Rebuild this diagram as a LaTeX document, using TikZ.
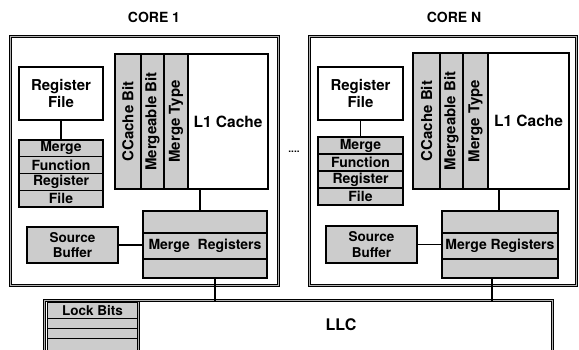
\documentclass[tikz,border=0pt]{standalone}
\usepackage{fontspec}
\setmainfont{TeX Gyre Heros}
\usetikzlibrary{calc}
\definecolor{lg}{RGB}{204,204,204}
\newcommand\fsz[2]{\fontsize{#1}{#2}\selectfont\bfseries}
\tikzset{
  box/.style={draw=black, line width=1.2pt, inner sep=0pt, outer sep=0pt, anchor=north west, align=center},
  gbox/.style={box, fill=lg},
  dbl/.style={draw=black, line width=1.1pt, double=gray!60, double distance=1.2pt},
  conn/.style={draw=black, line width=1.2pt},
}
\begin{document}
\begin{tikzpicture}[x=1pt, y=-1pt]
\useasboundingbox (0,0) rectangle (579,350);
% titles
\node[font=\fsz{14}{15}] (t1) at (154,17) {CORE 1};
\node[font=\fsz{14}{15}] (tn) at (454,17) {CORE N};
% outer core boxes
\node[dbl, inner sep=0pt, outer sep=0pt, anchor=north west, minimum width=267.6pt, minimum height=248.6pt] (core1) at (10.7,36.7) {};
\node[dbl, inner sep=0pt, outer sep=0pt, anchor=north west, minimum width=266.6pt, minimum height=248.6pt] (coreN) at (309.7,36.7) {};
\node[font=\fsz{10}{10}] (dots) at (294,152) {....};
% LLC
\node[dbl, fill=white, inner sep=0pt, outer sep=0pt, anchor=north west, minimum width=507.6pt, minimum height=80pt] (llc) at (44.7,300.7) {};
\node[font=\fsz{16}{16}] (llct) at (341,325) {LLC};
\node[gbox, minimum width=90pt, minimum height=16pt, font=\fsz{13.5}{13.5}] (lb1) at (47.5,302.3) {Lock Bits};
\node[gbox, minimum width=90pt, minimum height=10pt] (lb2) at (47.5,318.3) {};
\node[gbox, minimum width=90pt, minimum height=10pt] (lb3) at (47.5,328.3) {};
\node[gbox, minimum width=90pt, minimum height=30pt] (lb4) at (47.5,338.3) {};
\draw[dbl] ([xshift=1.2pt]lb1.north east) -- ([xshift=1.2pt]lb4.south east);

% ---------- CORE 1 ----------
\node[box, minimum width=84pt, minimum height=53pt, font=\fsz{15}{16.5}] (rf1) at (19,67) {Register\\File};
\node[gbox, minimum width=84pt, minimum height=16.75pt, font=\fsz{14}{14}] (s1a) at (19,140) {Merge};
\node[gbox, minimum width=84pt, minimum height=16.75pt, font=\fsz{14}{14}] (s1b) at (19,156.75) {Function};
\node[gbox, minimum width=84pt, minimum height=16.75pt, font=\fsz{14}{14}] (s1c) at (19,173.5) {Register};
\node[gbox, minimum width=84pt, minimum height=16.75pt, font=\fsz{14}{14}] (s1d) at (19,190.25) {File};
\draw[conn] (rf1.south) -- (s1a.north);
\node[gbox, minimum width=26pt, minimum height=135pt, font=\fsz{15}{15}] (cc1) at (115,54) {\rotatebox{90}{CCache Bit}};
\node[gbox, minimum width=23pt, minimum height=135pt, font=\fsz{15}{15}] (mb1) at (141,54) {\rotatebox{90}{Mergeable Bit}};
\node[gbox, minimum width=24pt, minimum height=135pt, font=\fsz{15}{15}] (mt1) at (164,54) {\rotatebox{90}{Merge Type}};
\node[box, fill=white, minimum width=80pt, minimum height=135pt, font=\fsz{15.5}{15.5}] (l11) at (188,54) {L1 Cache};
\node[gbox, minimum width=124pt, minimum height=22pt] (mr1a) at (143,211) {};
\node[gbox, minimum width=124pt, minimum height=26pt, font=\fsz{14}{14}] (mr1b) at (143,233) {Merge~~Registers};
\node[gbox, minimum width=124pt, minimum height=19pt] (mr1c) at (143,259) {};
\node[gbox, minimum width=91pt, minimum height=36pt, font=\fsz{13.5}{15.3}] (sb1) at (27,227) {Source\\Buffer};
\coordinate (c1a) at ($(l11.south west)+(12,0)$);
\draw[conn] (c1a) -- (c1a |- mr1a.north);
\draw[conn] (sb1.east) -- (sb1.east -| mr1b.west);
\coordinate (c1b) at ($(mr1c.south west)+(72,0)$);
\draw[conn] (c1b) -- (c1b |- llc.north);

% ---------- CORE N ----------
\node[box, minimum width=85pt, minimum height=53pt, font=\fsz{15}{16.5}] (rfn) at (318,67) {Register\\File};
\node[gbox, minimum width=85pt, minimum height=17pt, font=\fsz{14}{14}] (sna) at (318,137) {Merge};
\node[gbox, minimum width=85pt, minimum height=17pt, font=\fsz{14}{14}] (snb) at (318,154) {Function};
\node[gbox, minimum width=85pt, minimum height=17pt, font=\fsz{14}{14}] (snc) at (318,171) {Register};
\node[gbox, minimum width=85pt, minimum height=17pt, font=\fsz{14}{14}] (snd) at (318,188) {File};
\draw[conn] (rfn.south) -- (sna.north);
\node[gbox, minimum width=27pt, minimum height=136pt, font=\fsz{15}{15}] (ccn) at (413,53) {\rotatebox{90}{CCache Bit}};
\node[gbox, minimum width=23pt, minimum height=136pt, font=\fsz{15}{15}] (mbn) at (440,53) {\rotatebox{90}{Mergeable Bit}};
\node[gbox, minimum width=25pt, minimum height=136pt, font=\fsz{15}{15}] (mtn) at (463,53) {\rotatebox{90}{Merge Type}};
\node[box, fill=white, minimum width=81pt, minimum height=136pt, font=\fsz{15.5}{15.5}] (l1n) at (488,53) {L1 Cache};
\node[gbox, minimum width=116pt, minimum height=22pt] (mrna) at (442,211) {};
\node[gbox, minimum width=116pt, minimum height=26pt, font=\fsz{14}{14}] (mrnb) at (442,233) {Merge Registers};
\node[gbox, minimum width=116pt, minimum height=19pt] (mrnc) at (442,259) {};
\node[gbox, minimum width=91pt, minimum height=37pt, font=\fsz{13.5}{15.3}] (sbn) at (326,226) {Source\\Buffer};
\coordinate (cna) at ($(l1n.south west)+(11,0)$);
\draw[conn] (cna) -- (cna |- mrna.north);
\draw[conn] (sbn.east) -- (sbn.east -| mrnb.west);
\coordinate (cnb) at ($(mrnc.south west)+(50,0)$);
\draw[conn] (cnb) -- (cnb |- llc.north);
\end{tikzpicture}
\end{document}
